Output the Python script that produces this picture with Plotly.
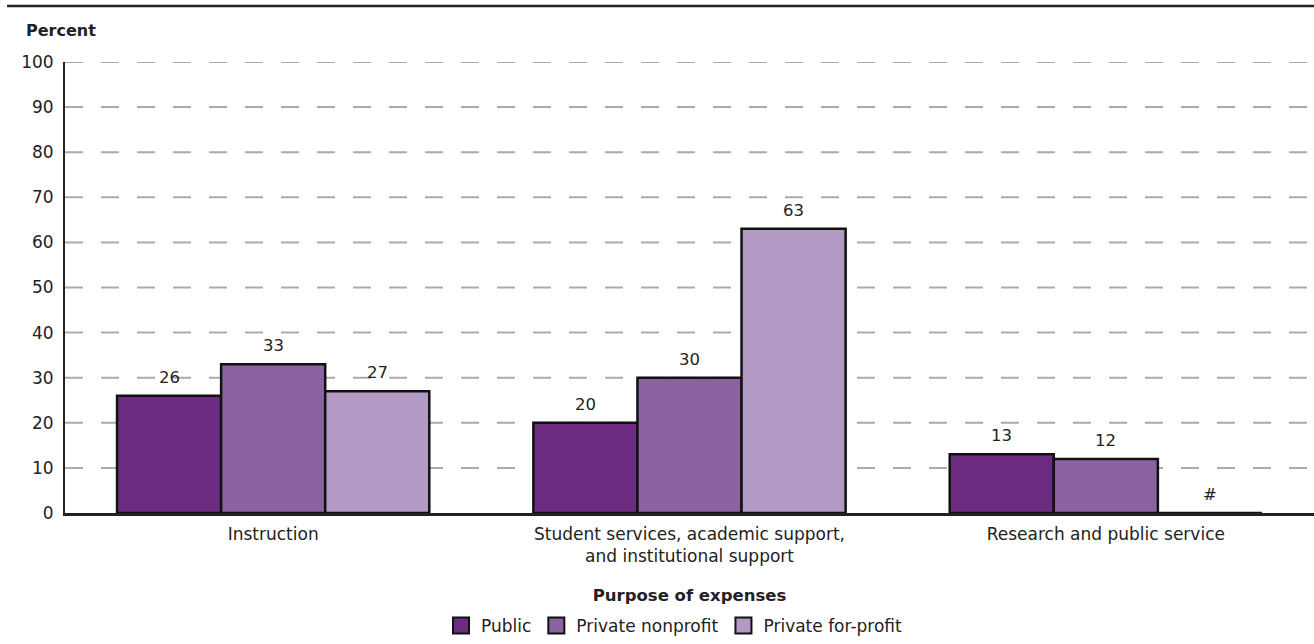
import plotly.graph_objects as go

categories = ["Instruction",
              "Student services, academic support,<br>and institutional support",
              "Research and public service"]
series_names = ["Public", "Private nonprofit", "Private for-profit"]
public_vals = [26, 20, 13]
nonprofit_vals = [33, 30, 12]
forprofit_vals = [27, 63, 0]
colors = ["#6B2C82", "#8B63A0", "#B39AC4"]
y_ticks = list(range(0, 101, 10))

FONT = "DejaVu Sans"
FS = 17
BARGAP = 0.25
all_series = [public_vals, nonprofit_vals, forprofit_vals]
n_series = len(all_series)
bar_w = (1 - BARGAP) / n_series

fig = go.Figure()
annotations = []
for k, (name, vals, col) in enumerate(zip(series_names, all_series, colors)):
    fig.add_trace(go.Bar(
        x=categories, y=vals, name=name,
        marker=dict(color=col, line=dict(color="#111", width=2.5)),
        showlegend=False))
    fig.add_trace(go.Scatter(
        x=[None], y=[None], mode="markers", name=name,
        marker=dict(symbol="square", size=16, color=col, line=dict(color="#111", width=2))))
    offset = (k - (n_series - 1) / 2) * bar_w
    for i, v in enumerate(vals):
        annotations.append(dict(
            x=i + offset, y=v, xref="x", yref="y", text=str(v) if v > 0 else "#",
            showarrow=False, yanchor="bottom", yshift=7,
            font=dict(family=FONT, size=16.5, color="#222")))

annotations.append(dict(text="<b>Percent</b>", xref="paper", yref="paper", x=-0.0328, y=1.07,
                        xanchor="left", yanchor="middle", showarrow=False,
                        font=dict(family=FONT, size=16, color="#222")))

# dashed horizontal grid lines (style elements) at each tick except the baseline
grid_shapes = [dict(type="line", xref="paper", yref="y", x0=0, x1=1, y0=t, y1=t, layer="between",
                    line=dict(color="#ABABAB", width=2, dash="18px,18px"))
               for t in y_ticks if t > 0]

fig.update_layout(
    width=1314, height=644,
    margin=dict(l=65, r=0, t=62, b=130),
    paper_bgcolor="white", plot_bgcolor="white",
    barmode="group", bargap=BARGAP, bargroupgap=0,
    font=dict(family=FONT, size=FS, color="#222"),
    showlegend=True,
    legend=dict(orientation="h", x=0.488, xanchor="center", y=-0.25, yanchor="middle",
                font=dict(family=FONT, size=FS, color="#222"), itemsizing="trace"),
    xaxis=dict(showline=True, linecolor="#222", linewidth=2.5, ticks="",
               ticklabelstandoff=4,
               tickfont=dict(family=FONT, size=FS, color="#222"),
               title=dict(text="<b>Purpose of expenses</b>", font=dict(family=FONT, size=16.5, color="#222"), standoff=25)),
    yaxis=dict(range=[0, 100], tickvals=y_ticks, showline=True, linecolor="#222", linewidth=2,
               showgrid=False,
               zeroline=False, ticks="", ticklabelstandoff=6,
               tickfont=dict(family=FONT, size=FS, color="#222")),
    annotations=annotations,
    shapes=[dict(type="line", xref="paper", yref="paper", x0=-0.0464, x1=1, y0=1.1239, y1=1.1239,
                 line=dict(color="#222", width=2.5))] + grid_shapes,
)
fig.write_html("out.html", config={"displayModeBar": False},
               post_script="document.body.style.margin='0';")
